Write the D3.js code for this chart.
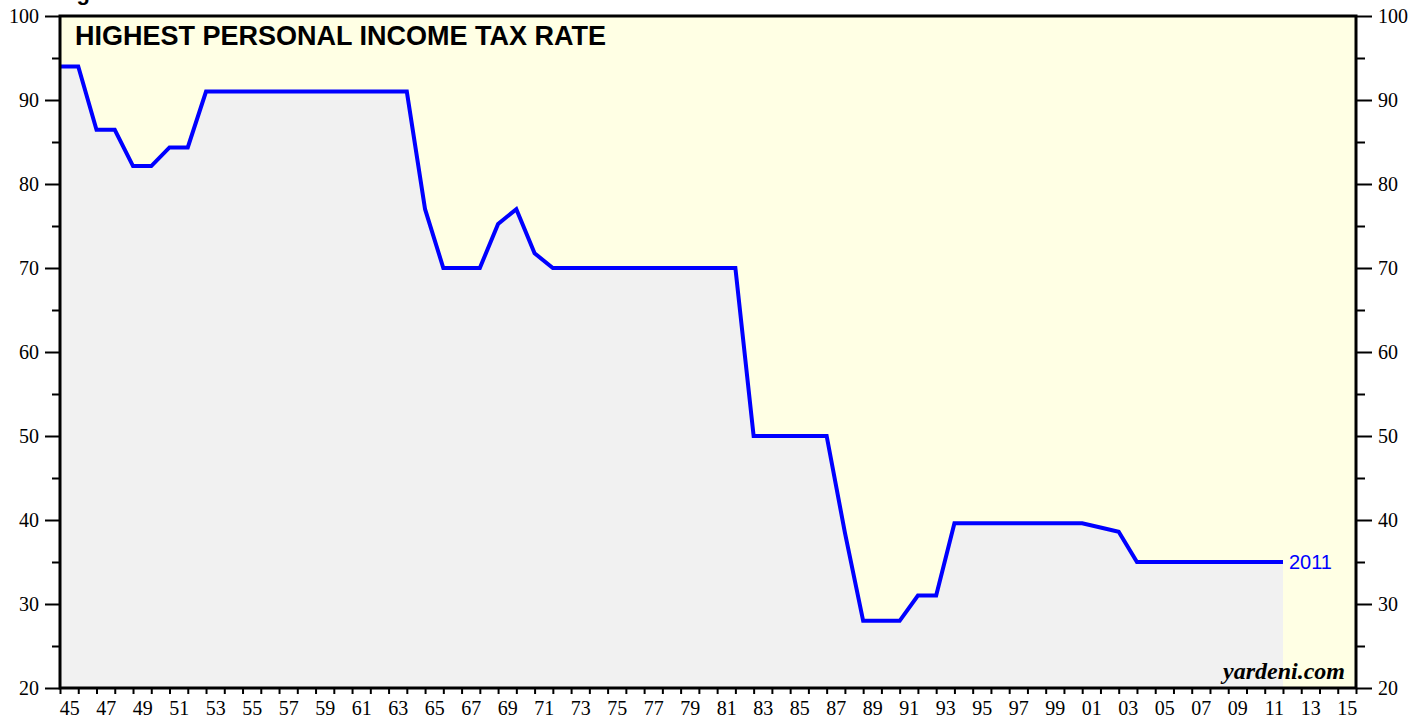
<!DOCTYPE html>
<html>
<head>
<meta charset="utf-8">
<script src="https://cdn.jsdelivr.net/npm/d3@7"></script>
<style>
	body { margin: 0; background: #ffffff; }
	svg { display: block; }
</style>
</head>
<body>
<script>
	// Top personal income tax rate, one value per year (plotted at the end of that year)
	var years = [1944,1945,1946,1947,1948,1949,1950,1951,1952,1953,1954,1955,1956,1957,1958,1959,
		1960,1961,1962,1963,1964,1965,1966,1967,1968,1969,1970,1971,1972,1973,1974,1975,1976,1977,
		1978,1979,1980,1981,1982,1983,1984,1985,1986,1987,1988,1989,1990,1991,1992,1993,1994,1995,
		1996,1997,1998,1999,2000,2001,2002,2003,2004,2005,2006,2007,2008,2009,2010,2011];
	var rates = [94,94,86.45,86.45,82.13,82.13,84.36,84.36,91,91,91,91,91,91,91,91,
		91,91,91,91,77,70,70,70,75.25,77,71.75,70,70,70,70,70,70,70,
		70,70,70,70,50,50,50,50,50,38.5,28,28,28,31,31,39.6,39.6,39.6,
		39.6,39.6,39.6,39.6,39.6,39.1,38.6,35,35,35,35,35,35,35,35,35];

	var yTicks = [20,30,40,50,60,70,80,90,100];
	var yMinorTicks = [25,35,45,55,65,75,85,95];
	var xLabelYears = d3.range(1945, 2016, 2);

	var title = 'HIGHEST PERSONAL INCOME TAX RATE';
	var lastLabel = '2011';
	var source = 'yardeni.com';

	var svgWidth = 1428;
	var svgHeight = 719;
	var plotLeft = 60, plotRight = 1356, plotTop = 16, plotBottom = 688;

	function createSvg(parent, height, width) {
		return d3.select(parent)
			.append('svg')
			.attr('height', height)
			.attr('width', width);
	}

	var svg = createSvg('body', svgHeight, svgWidth);

	var x = d3.scaleLinear().domain([1945, 2016]).range([plotLeft, plotRight]);
	var y = d3.scaleLinear().domain([20, 100]).range([plotBottom, plotTop]);

	var data = years.map(function(yr, i) { return {x: yr + 1, v: rates[i]}; });

	// Cut-off figure caption at the very top
	svg.append('text')
		.attr('x', 57)
		.attr('y', 0)
		.attr('font-family', 'Liberation Sans, Arial, sans-serif')
		.attr('font-weight', 'bold')
		.attr('font-size', 22)
		.text('Figure 1.');

	// Plot background
	svg.append('rect')
		.attr('x', plotLeft)
		.attr('y', plotTop)
		.attr('width', plotRight - plotLeft)
		.attr('height', plotBottom - plotTop)
		.attr('fill', '#ffffe4');

	// Grey area under the line
	var area = d3.area()
		.x(function(d) { return x(d.x); })
		.y0(y(20))
		.y1(function(d) { return y(d.v); });

	svg.append('path')
		.datum(data)
		.attr('d', area)
		.attr('fill', '#f1f1f1');

	var line = d3.line()
		.x(function(d) { return x(d.x); })
		.y(function(d) { return y(d.v); });

	svg.append('path')
		.datum(data)
		.attr('d', line)
		.attr('fill', 'none')
		.attr('stroke', '#0000ff')
		.attr('stroke-width', 4)
		.attr('stroke-linejoin', 'miter');

	// Axes
	var serif = 'Liberation Serif, Times New Roman, serif';

	function styleAxis(g) {
		g.select('.domain').remove();
		g.selectAll('line').attr('stroke', '#000').attr('stroke-width', 2);
		g.selectAll('text').attr('font-family', serif).attr('font-size', 20).attr('fill', '#000');
	}

	svg.append('g')
		.attr('transform', 'translate(' + plotLeft + ',0)')
		.call(d3.axisLeft(y).tickValues(yTicks).tickSize(15).tickPadding(6))
		.call(styleAxis);
	svg.append('g')
		.attr('transform', 'translate(' + plotLeft + ',0)')
		.call(d3.axisLeft(y).tickValues(yMinorTicks).tickSize(8).tickFormat(''))
		.call(styleAxis);

	svg.append('g')
		.attr('transform', 'translate(' + plotRight + ',0)')
		.call(d3.axisRight(y).tickValues(yTicks).tickSize(16).tickPadding(6))
		.call(styleAxis);
	svg.append('g')
		.attr('transform', 'translate(' + plotRight + ',0)')
		.call(d3.axisRight(y).tickValues(yMinorTicks).tickSize(9).tickFormat(''))
		.call(styleAxis);

	svg.append('g')
		.attr('transform', 'translate(0,' + plotBottom + ')')
		.call(d3.axisBottom(x).tickValues(d3.range(1945, 2017)).tickSize(6).tickFormat(''))
		.call(styleAxis);

	svg.append('g')
		.attr('transform', 'translate(0,' + plotBottom + ')')
		.call(d3.axisBottom(x)
			.tickValues(xLabelYears.map(function(d) { return d + 0.5; }))
			.tickSize(0)
			.tickPadding(13)
			.tickFormat(function(d) { return String(Math.floor(d) % 100).padStart(2, '0'); }))
		.call(styleAxis);

	// Frame
	svg.append('rect')
		.attr('x', plotLeft)
		.attr('y', plotTop)
		.attr('width', plotRight - plotLeft)
		.attr('height', plotBottom - plotTop)
		.attr('fill', 'none')
		.attr('stroke', '#000')
		.attr('stroke-width', 3);

	// Texts
	svg.append('text')
		.attr('x', 75)
		.attr('y', 45)
		.attr('font-family', 'Liberation Sans, Arial, sans-serif')
		.attr('font-weight', 'bold')
		.attr('font-size', 27)
		.text(title);

	var last = data[data.length - 1];
	svg.append('text')
		.attr('x', x(last.x) + 6)
		.attr('y', y(last.v) + 7)
		.attr('font-family', 'Liberation Sans, Arial, sans-serif')
		.attr('font-size', 20)
		.attr('fill', '#0000ff')
		.text(lastLabel);

	svg.append('text')
		.attr('x', 1345)
		.attr('y', 679)
		.attr('text-anchor', 'end')
		.attr('font-family', serif)
		.attr('font-weight', 'bold')
		.attr('font-style', 'italic')
		.attr('font-size', 24)
		.text(source);
</script>
</body>
</html>
